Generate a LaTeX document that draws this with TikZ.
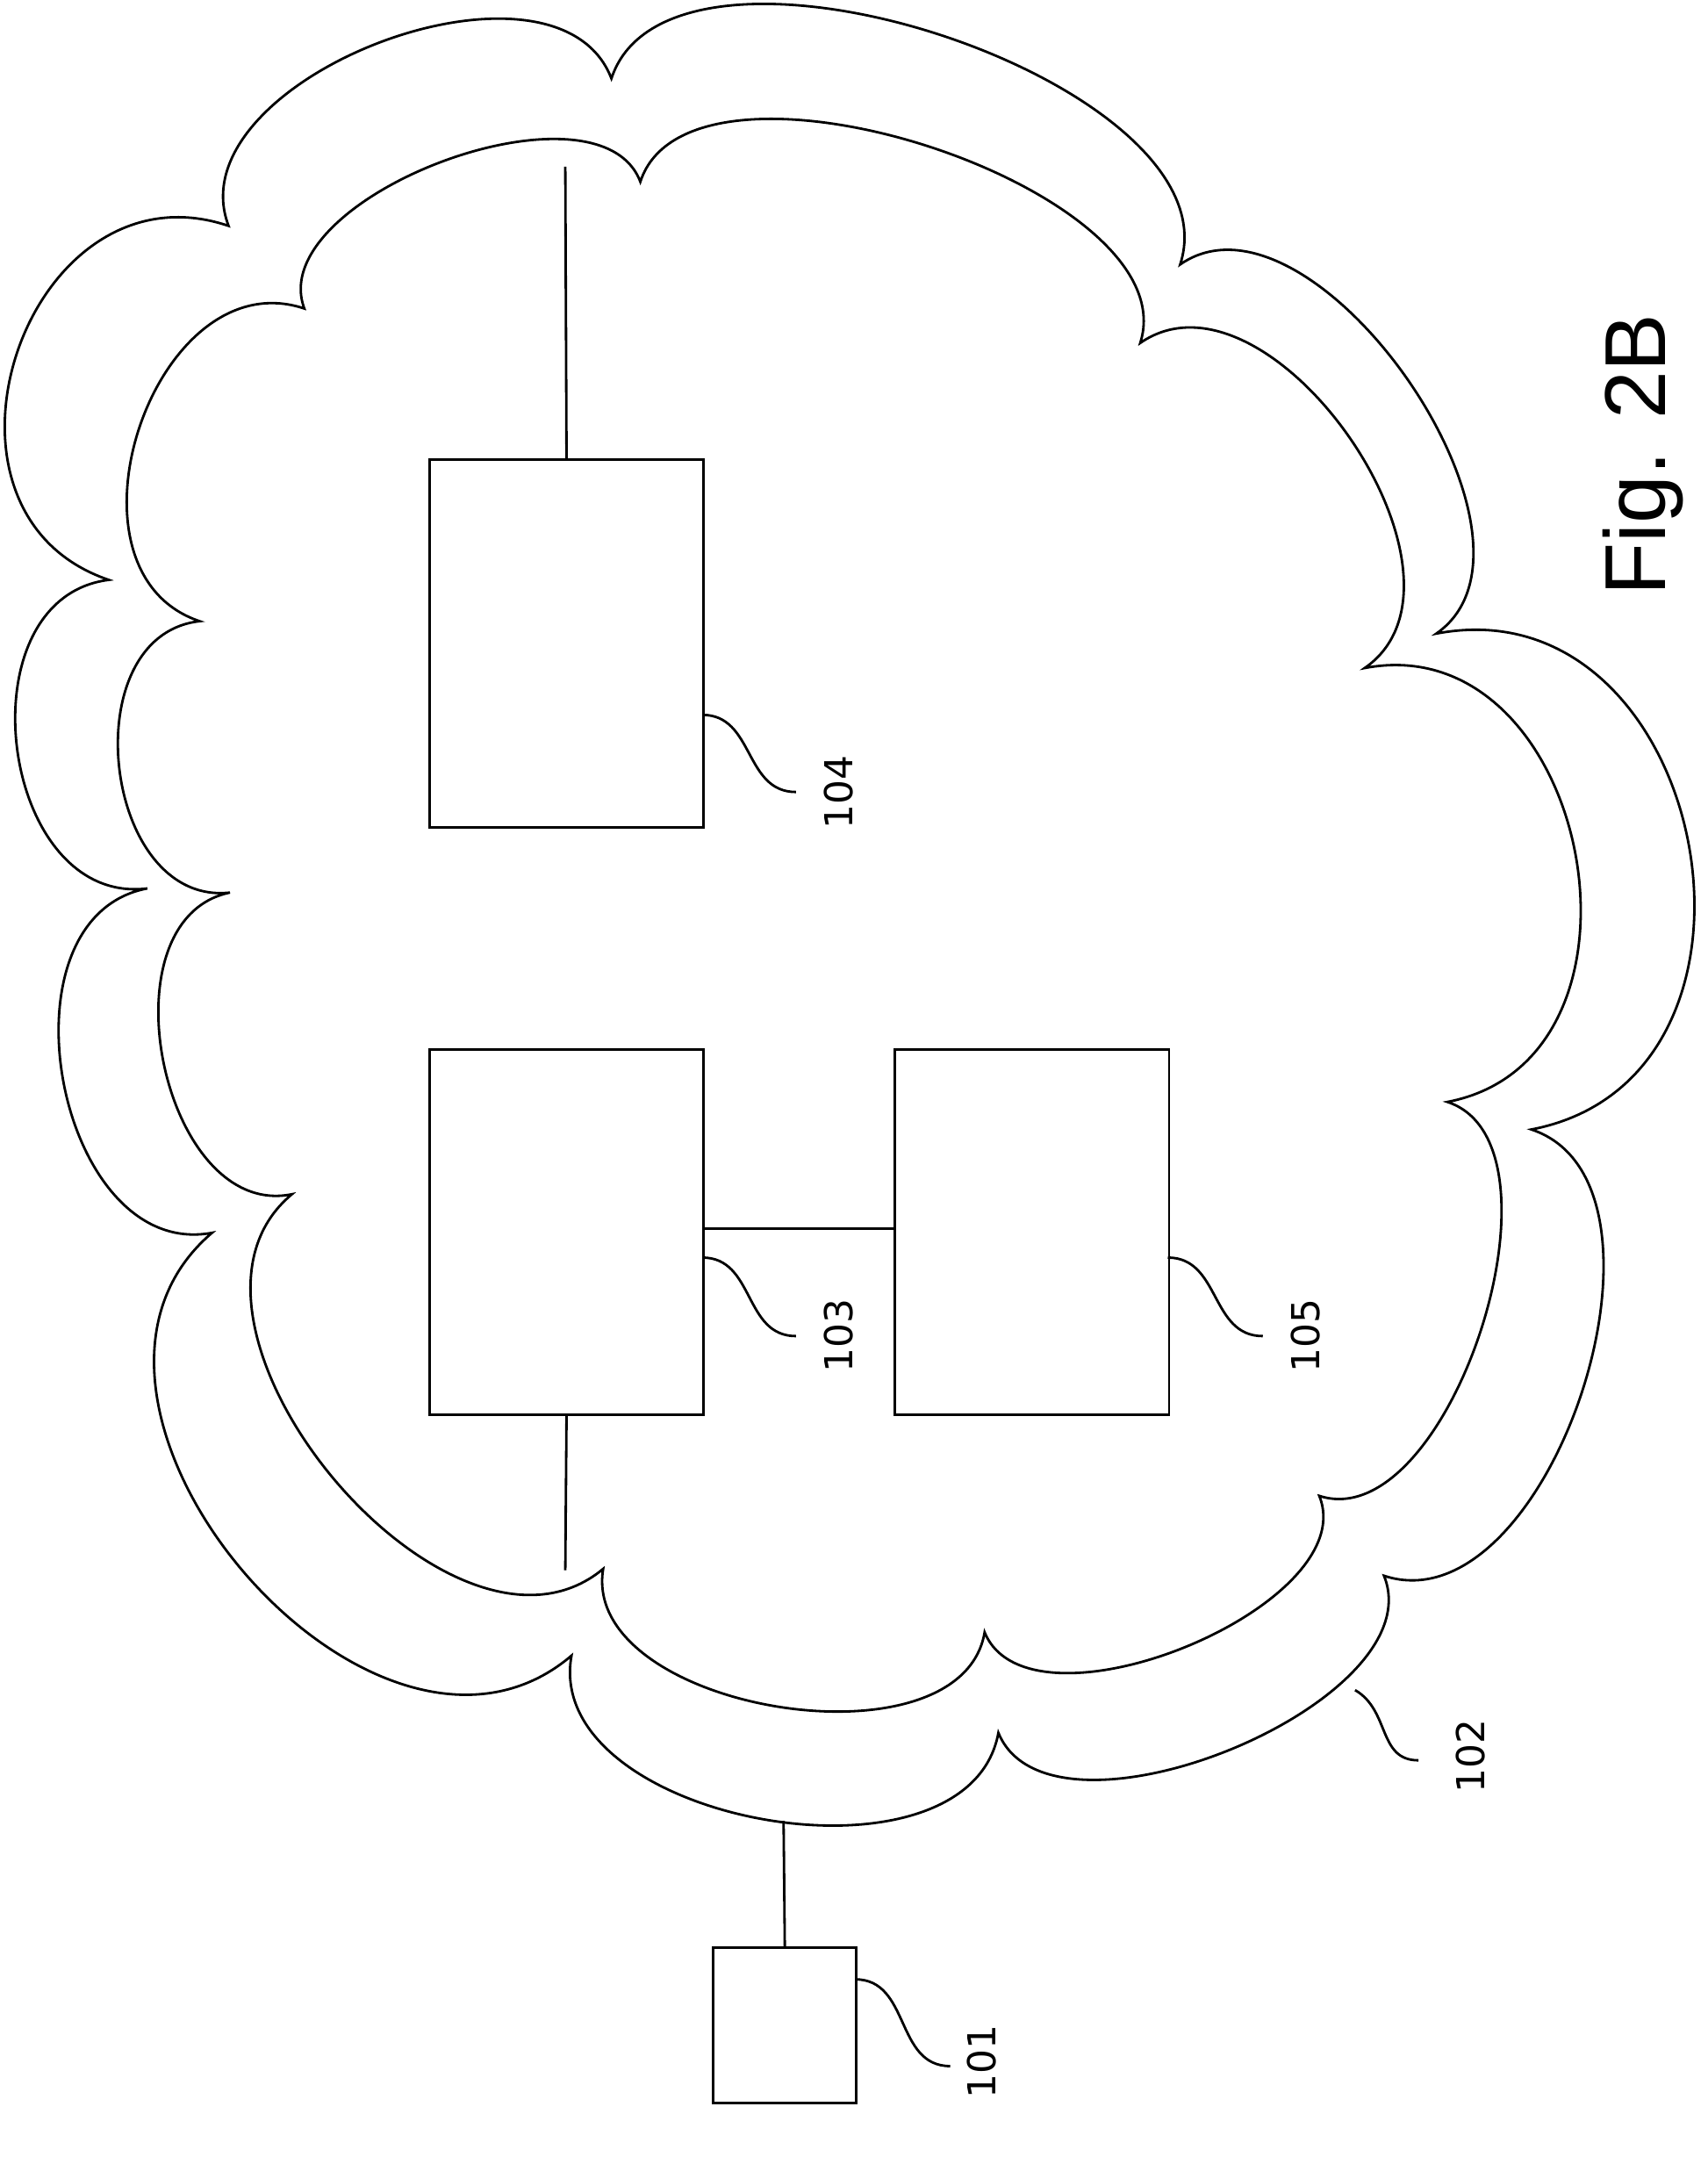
\documentclass[tikz,border=0pt]{standalone}
\usepackage{fontspec}
\usetikzlibrary{calc}
\newfontfamily\numfont{DejaVu Sans}
\newfontfamily\figfont{Liberation Sans}
\newcommand\bmp[3]{.. controls ($#1!#2!90:#3$) and ($#3!#2!-90:#1$) .. #3}
\begin{document}
\begin{tikzpicture}[x=0.015685cm,y=-0.015685cm,line width=0.8pt,
  box/.style={draw,line width=0.8pt,inner sep=0,anchor=north west},
  lbl/.style={font=\numfont\fontsize{12.5}{14}\selectfont,rotate=90,inner sep=0},
  lead/.style={out=0,in=180,looseness=1.1}]
\useasboundingbox (0,0) rectangle (1240,1566);
% outer cloud
\draw (79,421) \bmp{(79,421)}{0.57}{(166,164)} \bmp{(166,164)}{0.38}{(444,57)}
  \bmp{(444,57)}{0.32}{(857,192)} \bmp{(857,192)}{0.36}{(1043,460)}
  \bmp{(1043,460)}{0.55}{(1112,820)} \bmp{(1112,820)}{0.37}{(1005,1144)}
  \bmp{(1005,1144)}{0.33}{(725,1258)} \bmp{(725,1258)}{0.39}{(415,1202)}
  \bmp{(415,1202)}{0.47}{(154,895)} \bmp{(154,895)}{0.45}{(107,645)}
  \bmp{(107,645)}{0.48}{(79,421)} -- cycle;
% inner cloud
\draw (145,451) \bmp{(145,451)}{0.48}{(221,224)} \bmp{(221,224)}{0.33}{(465,132)}
  \bmp{(465,132)}{0.31}{(828,249)} \bmp{(828,249)}{0.40}{(991,485)}
  \bmp{(991,485)}{0.52}{(1051,800)} \bmp{(1051,800)}{0.33}{(958,1086)}
  \bmp{(958,1086)}{0.33}{(715,1185)} \bmp{(715,1185)}{0.37}{(438,1139)}
  \bmp{(438,1139)}{0.41}{(212,867)} \bmp{(212,867)}{0.43}{(167,648)}
  \bmp{(167,648)}{0.47}{(145,451)} -- cycle;
% boxes
\node[box,minimum width=199*0.015685cm,minimum height=267*0.015685cm] (b104) at (311,333) {};
\node[box,minimum width=199*0.015685cm,minimum height=265*0.015685cm] (b103) at (311,761) {};
\node[box,minimum width=199*0.015685cm,minimum height=265*0.015685cm] (b105) at (649,761) {};
\node[box,minimum width=104*0.015685cm,minimum height=113*0.015685cm] (b101) at (517,1413) {};
% cloud attachment points
\coordinate (ctop) at (410.5,121);
\coordinate (cbot) at (410.5,1140);
\coordinate (cout) at (569,1322);
\draw (b104.north) -- (ctop);
\draw (b103.south) -- (cbot);
\draw (b101.north) -- (cout);
\draw (b103.east |- 0,892) -- (b105.west |- 0,892);
% labels
\node[lbl] (t101) at (713,1497) {101};
\node[lbl] (t102) at (1068,1275) {102};
\node[lbl] (t103) at (609,970) {103};
\node[lbl] (t104) at (609,575) {104};
\node[lbl] (t105) at (948,970) {105};
\coordinate (s101) at (621,1437);
\coordinate (s102) at (984,1227);
\coordinate (s103) at (510,913);
\coordinate (s104) at (510,519);
\coordinate (s105) at (848,913);
\draw (s101) to[lead] (690,1500) coordinate (e101);
\draw (s103) to[lead] (578,970) coordinate (e103);
\draw (s104) to[lead] (578,575) coordinate (e104);
\draw (s105) to[lead] (917,970) coordinate (e105);
\draw (s102) to[out=-30,in=180,looseness=1.1] (1030,1278) coordinate (e102);
\node[font=\figfont\fontsize{28}{30}\selectfont,rotate=90,inner sep=0] (fig) at (1193,330) {Fig. 2B};
\end{tikzpicture}
\end{document}
